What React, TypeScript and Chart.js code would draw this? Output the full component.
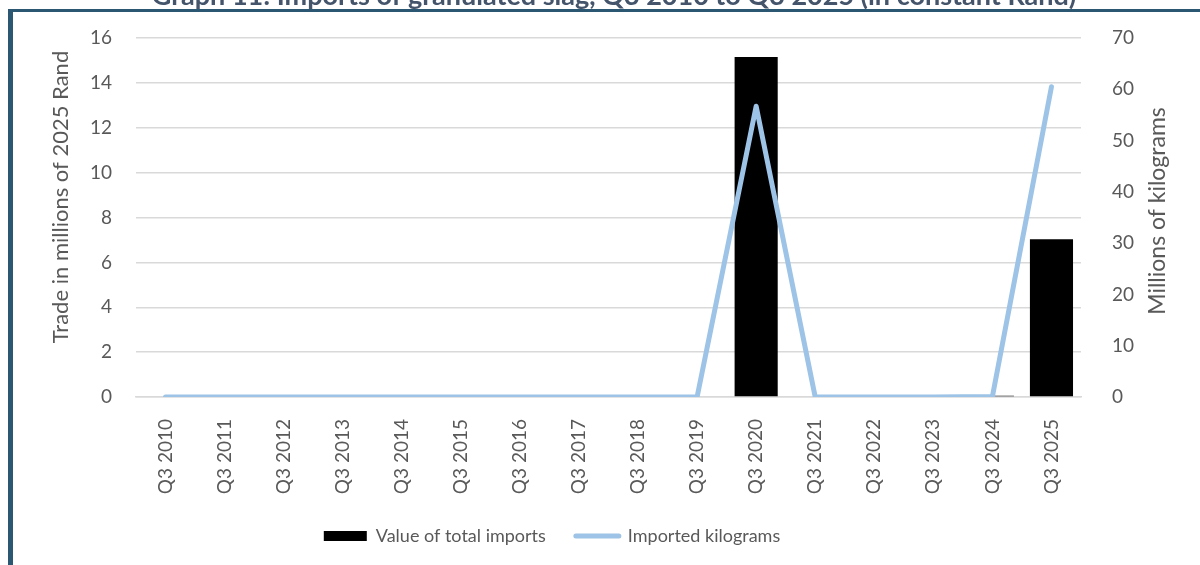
import React, { useEffect, useRef } from "react";
import { Chart, registerables } from "chart.js";

Chart.register(...registerables);

const categories = [
  "Q3 2010", "Q3 2011", "Q3 2012", "Q3 2013", "Q3 2014", "Q3 2015", "Q3 2016", "Q3 2017",
  "Q3 2018", "Q3 2019", "Q3 2020", "Q3 2021", "Q3 2022", "Q3 2023", "Q3 2024", "Q3 2025",
];
const importValues = [0, 0, 0, 0, 0, 0, 0, 0, 0, 0, 15.15, 0, 0, 0, 0.06, 7.03];
const importedKg = [0, 0, 0, 0, 0, 0, 0, 0, 0, 0, 56.7, 0, 0, 0, 0.1, 60.5];
const seriesNames = ["Value of total imports", "Imported kilograms"];
const titleText = "Graph 11: Imports of granulated slag, Q3 2010 to Q3 2025 (in constant Rand)";
const leftAxisTitle = "Trade in millions of 2025 Rand";
const rightAxisTitle = "Millions of kilograms";
const leftMax = 16;
const leftStep = 2;
const rightMax = 70;
const rightStep = 10;

const FONT = "Lato";
const TEXT_COLOR = "#595959";
const GRID_COLOR = "#D9D9D9";
const BAR_COLOR = "#000000";
const LINE_COLOR = "#9DC3E6";
const FRAME_COLOR = "#2B5773";
const TITLE_COLOR = "#44546A";

const decorPlugin = {
  id: "decor",
  afterLayout(chart: any) {
    const lg = chart.legend;
    if (lg) {
      lg.left -= 55;
      lg.right -= 55;
    }
  },
  beforeDraw(chart: any) {
    const ctx = chart.ctx;
    ctx.save();
    ctx.fillStyle = "#ffffff";
    ctx.fillRect(0, 0, chart.width, chart.height);
    ctx.fillStyle = FRAME_COLOR;
    ctx.fillRect(9, 9, chart.width - 9, 3);
    ctx.fillRect(8, 9, 5, chart.height - 9);
    ctx.fillStyle = TITLE_COLOR;
    ctx.font = `bold 27px ${FONT}`;
    ctx.textAlign = "center";
    ctx.textBaseline = "alphabetic";
    ctx.fillText(titleText, 614, 5);
    ctx.restore();
  },
  afterDraw(chart: any) {
    const ctx = chart.ctx;
    ctx.save();
    ctx.fillStyle = TEXT_COLOR;
    ctx.textAlign = "center";
    ctx.textBaseline = "middle";
    ctx.font = `22px ${FONT}`;
    ctx.save();
    ctx.translate(61, 197);
    ctx.rotate(-Math.PI / 2);
    ctx.fillText(leftAxisTitle, 0, 0);
    ctx.restore();
    ctx.font = `23px ${FONT}`;
    ctx.translate(1158, 211);
    ctx.rotate(-Math.PI / 2);
    ctx.fillText(rightAxisTitle, 0, 0);
    ctx.restore();
  },
};

export default function App() {
  const canvasRef = useRef<HTMLCanvasElement | null>(null);

  useEffect(() => {
    if (!canvasRef.current) return;
    const defaultGen = (Chart.defaults as any).plugins.legend.labels.generateLabels;
    const chart = new Chart(canvasRef.current, {
      type: "bar",
      data: {
        labels: categories,
        datasets: [
          {
            type: "bar",
            label: seriesNames[0],
            data: importValues,
            backgroundColor: BAR_COLOR,
            borderWidth: 0,
            yAxisID: "y",
            categoryPercentage: 0.73,
            barPercentage: 1,
            order: 1,
          } as any,
          {
            type: "line",
            label: seriesNames[1],
            data: importedKg,
            borderColor: LINE_COLOR,
            backgroundColor: LINE_COLOR,
            borderWidth: 5,
            pointRadius: 0,
            tension: 0,
            borderCapStyle: "round",
            borderJoinStyle: "round",
            yAxisID: "y1",
            order: 0,
          } as any,
        ],
      },
      options: {
        responsive: false,
        animation: false,
        layout: { padding: { left: 14, right: 0, top: 38, bottom: 10 } },
        plugins: {
          tooltip: { enabled: false },
          legend: {
            position: "bottom",
            labels: {
              usePointStyle: true,
              pointStyleWidth: 43,
              boxHeight: 10,
              padding: 30,
              color: TEXT_COLOR,
              font: { family: FONT, size: 18 },
              sort: (a: any, b: any) => a.datasetIndex - b.datasetIndex,
              generateLabels: (chart: any) => {
                const items = defaultGen(chart);
                return items.map((it: any) => {
                  if (it.datasetIndex === 0) {
                    return { ...it, pointStyle: "rect", fillStyle: BAR_COLOR, strokeStyle: BAR_COLOR, lineWidth: 0 };
                  }
                  return { ...it, pointStyle: "line", fillStyle: LINE_COLOR, strokeStyle: LINE_COLOR, lineWidth: 5, lineCap: "round" };
                });
              },
            },
          },
        },
        scales: {
          x: {
            grid: { display: false },
            border: { display: true, color: GRID_COLOR, width: 1.5 },
            ticks: {
              color: TEXT_COLOR,
              font: { family: FONT, size: 19 },
              minRotation: 90,
              maxRotation: 90,
              autoSkip: false,
              padding: 14,
            },
            afterFit: (scale: any) => {
              scale.height = 100;
            },
          },
          y: {
            position: "left",
            min: 0,
            max: leftMax,
            ticks: {
              stepSize: leftStep,
              color: TEXT_COLOR,
              font: { family: FONT, size: 19 },
              padding: 24,
            },
            grid: { color: GRID_COLOR, lineWidth: 1.5, drawTicks: false },
            border: { display: false },
            afterFit: (scale: any) => {
              scale.width = 122;
              scale.paddingTop = 0;
              scale.paddingBottom = 0;
            },
          },
          y1: {
            position: "right",
            min: 0,
            max: rightMax,
            ticks: {
              stepSize: rightStep,
              color: TEXT_COLOR,
              font: { family: FONT, size: 19 },
              padding: 31,
            },
            grid: { display: false, drawTicks: false },
            border: { display: false },
            afterFit: (scale: any) => {
              scale.width = 119;
              scale.paddingTop = 0;
              scale.paddingBottom = 0;
            },
          },
        },
      },
      plugins: [decorPlugin],
    });
    return () => chart.destroy();
  }, []);

  return (
    <div style={{ position: "absolute", left: 0, top: 0, width: 1200, height: 565, background: "#fff" }}>
      <canvas ref={canvasRef} width={1200} height={565} style={{ display: "block" }} />
    </div>
  );
}
